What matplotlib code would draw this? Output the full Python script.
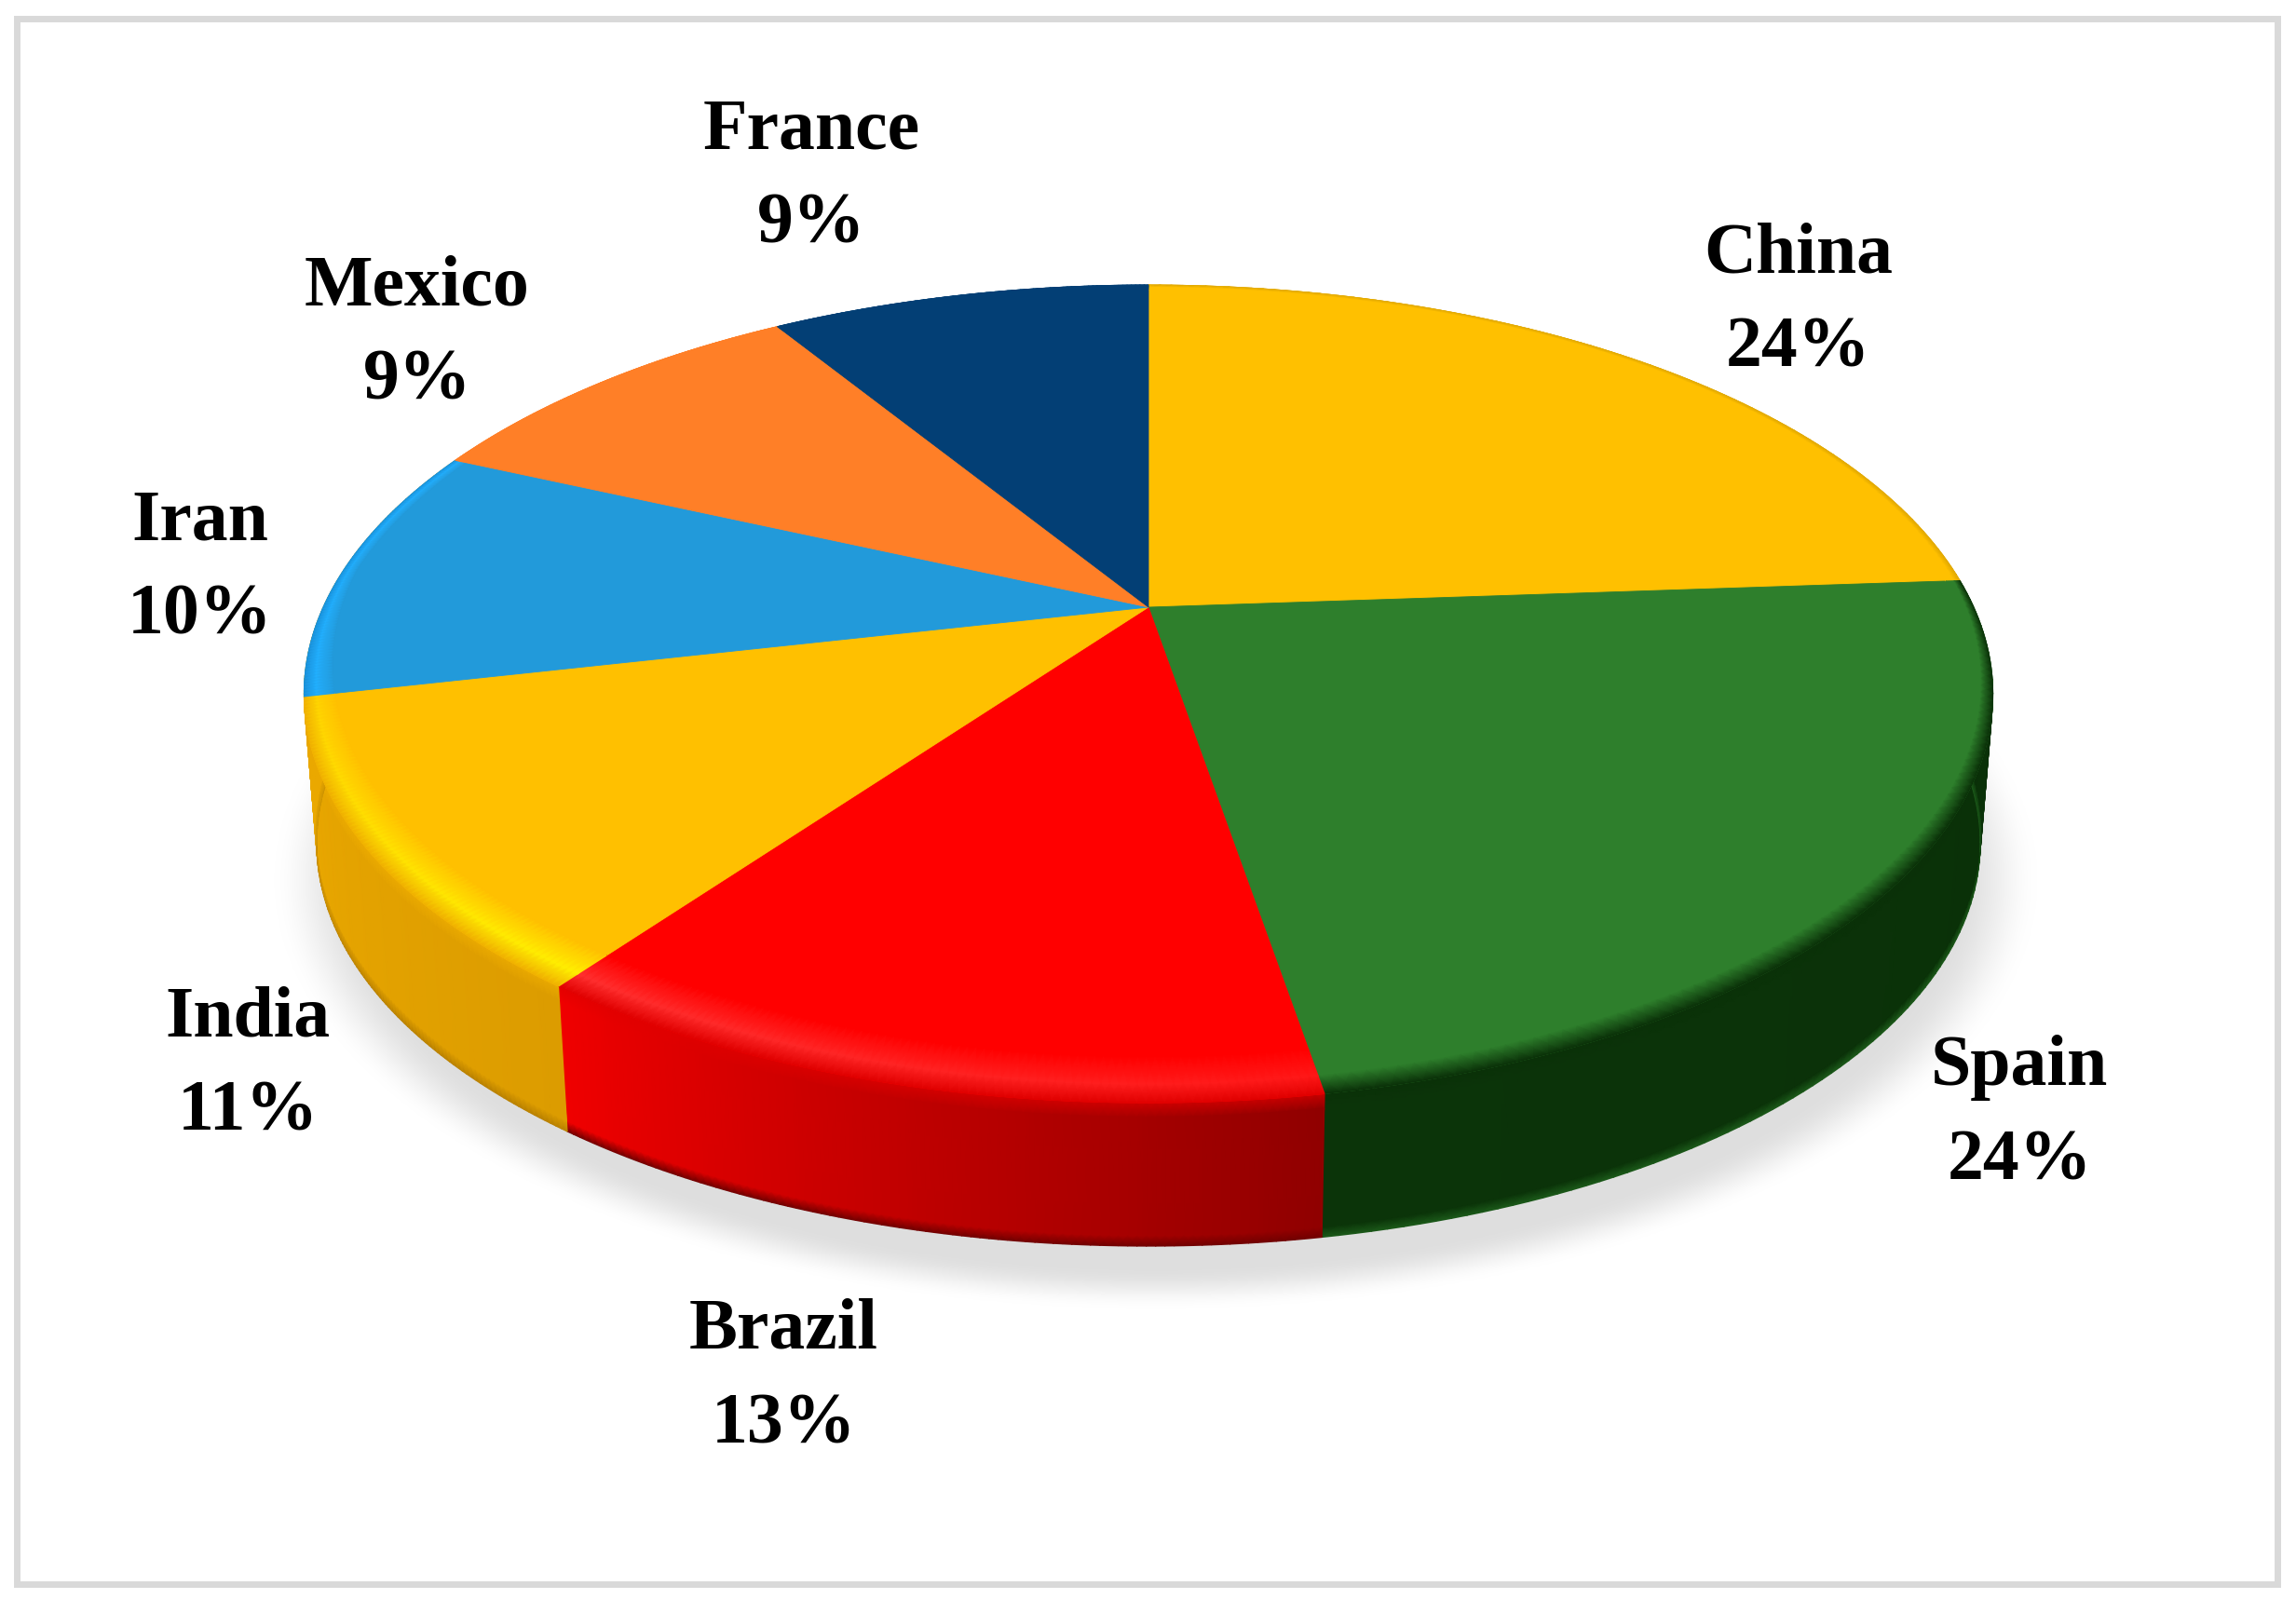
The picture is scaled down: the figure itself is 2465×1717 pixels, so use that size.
# -*- coding: utf-8 -*-
import numpy as np
import matplotlib
matplotlib.use("Agg")
import matplotlib.pyplot as plt
from matplotlib.colors import to_rgba
from matplotlib.patches import Rectangle

# data
countries = ["China", "Spain", "Brazil", "India", "Iran", "Mexico", "France"]
shares = [23.9, 23.4, 12.8, 11.4, 10.2, 9.4, 8.9]
pct_labels = ["24%", "24%", "13%", "11%", "10%", "9%", "9%"]

# style per slice (the a colour is at the clockwise start of the slice)
face_col = ["#ffc000", "#2e7f2c", "#ff0000", "#ffc000", "#229ada", "#ff7f27", "#033f75"]
glow_a = ["#ffc000", "#2e7f2c", "#ff1818", "#fff000", "#22b0ff", "#ff7f27", "#033f75"]
glow_b = ["#ffc000", "#2e7f2c", "#ff3030", "#ffd400", "#22b0ff", "#ff7f27", "#033f75"]
edge_col = ["#e0a800", "#0a3008", "#e00000", "#f0b000", "#1a90d8", "#ff7f27", "#033f75"]
wall_top = ["#c89000", "#0a3008", "#e00000", "#f0b000", "#f0b000", "#ff7f27", "#033f75"]
wall_a = ["#c89000", "#0a3008", "#900000", "#dc9c00", "#eaa800", "#ff7f27", "#033f75"]
wall_b = ["#c89000", "#0b3409", "#f00000", "#eaa800", "#eaa800", "#ff7f27", "#033f75"]
bottom_col = ["#c89000", "#1c5a1a", "#700000", "#b88000", "#c89000", "#ff7f27", "#033f75"]

# label centres in pixels (name, percent)
label_xy = [(1931, 274, 375), (2168, 1146, 1248), (841, 1429, 1531), (266, 1094, 1195),
            (215, 561, 662), (448, 309, 410), (871, 141, 242)]

# perspective of the disc
CX, CY = 1233.0, 652.0
AX_R, AY_R = 886.0, 419.3
K = 0.212
WALL_DY = 162.0
WALL_SCALE = 0.985


def Project(r, theta, dy=0.0, scale=1.0):
    # theta clockwise from the top, disc radius r
    xx = r * np.sin(theta)
    yy = r * np.cos(theta)
    w = 1 + K * yy
    return CX + scale * AX_R * xx / w, CY + dy - scale * AY_R * yy / w


def Mix(c1, c2, f):
    return np.array(to_rgba(c1)) * (1 - f) + np.array(to_rgba(c2)) * f


fig = plt.figure(figsize=(24.65, 17.17), dpi=100)
ax = fig.add_axes([0, 0, 1, 1])
ax.axis("off")

# soft shadow on the floor
gx, gy = np.meshgrid(np.arange(0, 2465, 3.0), np.arange(0, 1717, 3.0))
dist = np.sqrt(((gx - 1240) / 905.0) ** 2 + ((gy - 945) / 440.0) ** 2)
alpha = np.clip((1.05 - dist) / 0.1, 0, 1)
alpha = alpha * alpha * (3 - 2 * alpha) * 0.9
shadow = np.zeros(gx.shape + (4,))
shadow[..., :3] = 0.86
shadow[..., 3] = alpha
ax.imshow(shadow, extent=(0, 2465, 1717, 0), interpolation="bilinear", zorder=1)

bounds = np.radians(np.concatenate([[0], np.cumsum(shares)]) * 3.6)

for i in range(len(countries)):
    th = np.linspace(bounds[i], bounds[i + 1], 90)
    # side wall
    hv = np.array([0.0, 0.1, 0.93, 1.0])
    X = np.zeros((len(hv), len(th)))
    Y = np.zeros((len(hv), len(th)))
    C = np.zeros((len(hv), len(th), 4))
    for j, h in enumerate(hv):
        X[j], Y[j] = Project(1.0, th, dy=h * WALL_DY, scale=1 - h * (1 - WALL_SCALE))
    for n in range(len(th)):
        wc = Mix(wall_a[i], wall_b[i], n / (len(th) - 1))
        C[0, n] = Mix(wall_top[i], wc, 0.3)
        C[1, n] = wc
        C[2, n] = wc
        C[3, n] = to_rgba(bottom_col[i])
    ax.pcolormesh(X, Y, C, shading="gouraud", zorder=2)

for i in range(len(countries)):
    th = np.linspace(bounds[i], bounds[i + 1], 90)
    # flat top of the slice
    px, py = Project(1.0, th)
    ax.fill(np.r_[CX, px], np.r_[CY, py], facecolor=face_col[i],
            edgecolor=face_col[i], linewidth=0.6, zorder=3)

    # rounded rim, wider towards the viewer
    front = np.clip(0.1 - np.cos(th), 0, 1)
    width = 0.016 + 0.058 * front
    rv = [1 - width, 1 - 0.4 * width, 1.0]
    X = np.zeros((3, len(th)))
    Y = np.zeros((3, len(th)))
    C = np.zeros((3, len(th), 4))
    for j in range(3):
        X[j], Y[j] = Project(rv[j], th)
    for n in range(len(th)):
        C[0, n] = to_rgba(face_col[i])
        C[1, n] = Mix(glow_a[i], glow_b[i], n / (len(th) - 1))
        C[2, n] = to_rgba(edge_col[i])
    ax.pcolormesh(X, Y, C, shading="gouraud", zorder=4)

# country names and shares
for i in range(len(countries)):
    lx, ly1, ly2 = label_xy[i]
    ax.text(lx, ly1, countries[i], ha="center", va="center", fontsize=56,
            fontweight="bold", family="Liberation Serif", color="black", zorder=6)
    ax.text(lx, ly2, pct_labels[i], ha="center", va="center", fontsize=56,
            fontweight="bold", family="Liberation Serif", color="black", zorder=6)

# grey frame
ax.add_patch(Rectangle((18, 20), 2427, 1681, fill=False, edgecolor="#d9d9d9",
                       linewidth=5, zorder=7))

ax.set_xlim(0, 2465)
ax.set_ylim(1717, 0)
fig.savefig("out.png", dpi=100, facecolor="white")
